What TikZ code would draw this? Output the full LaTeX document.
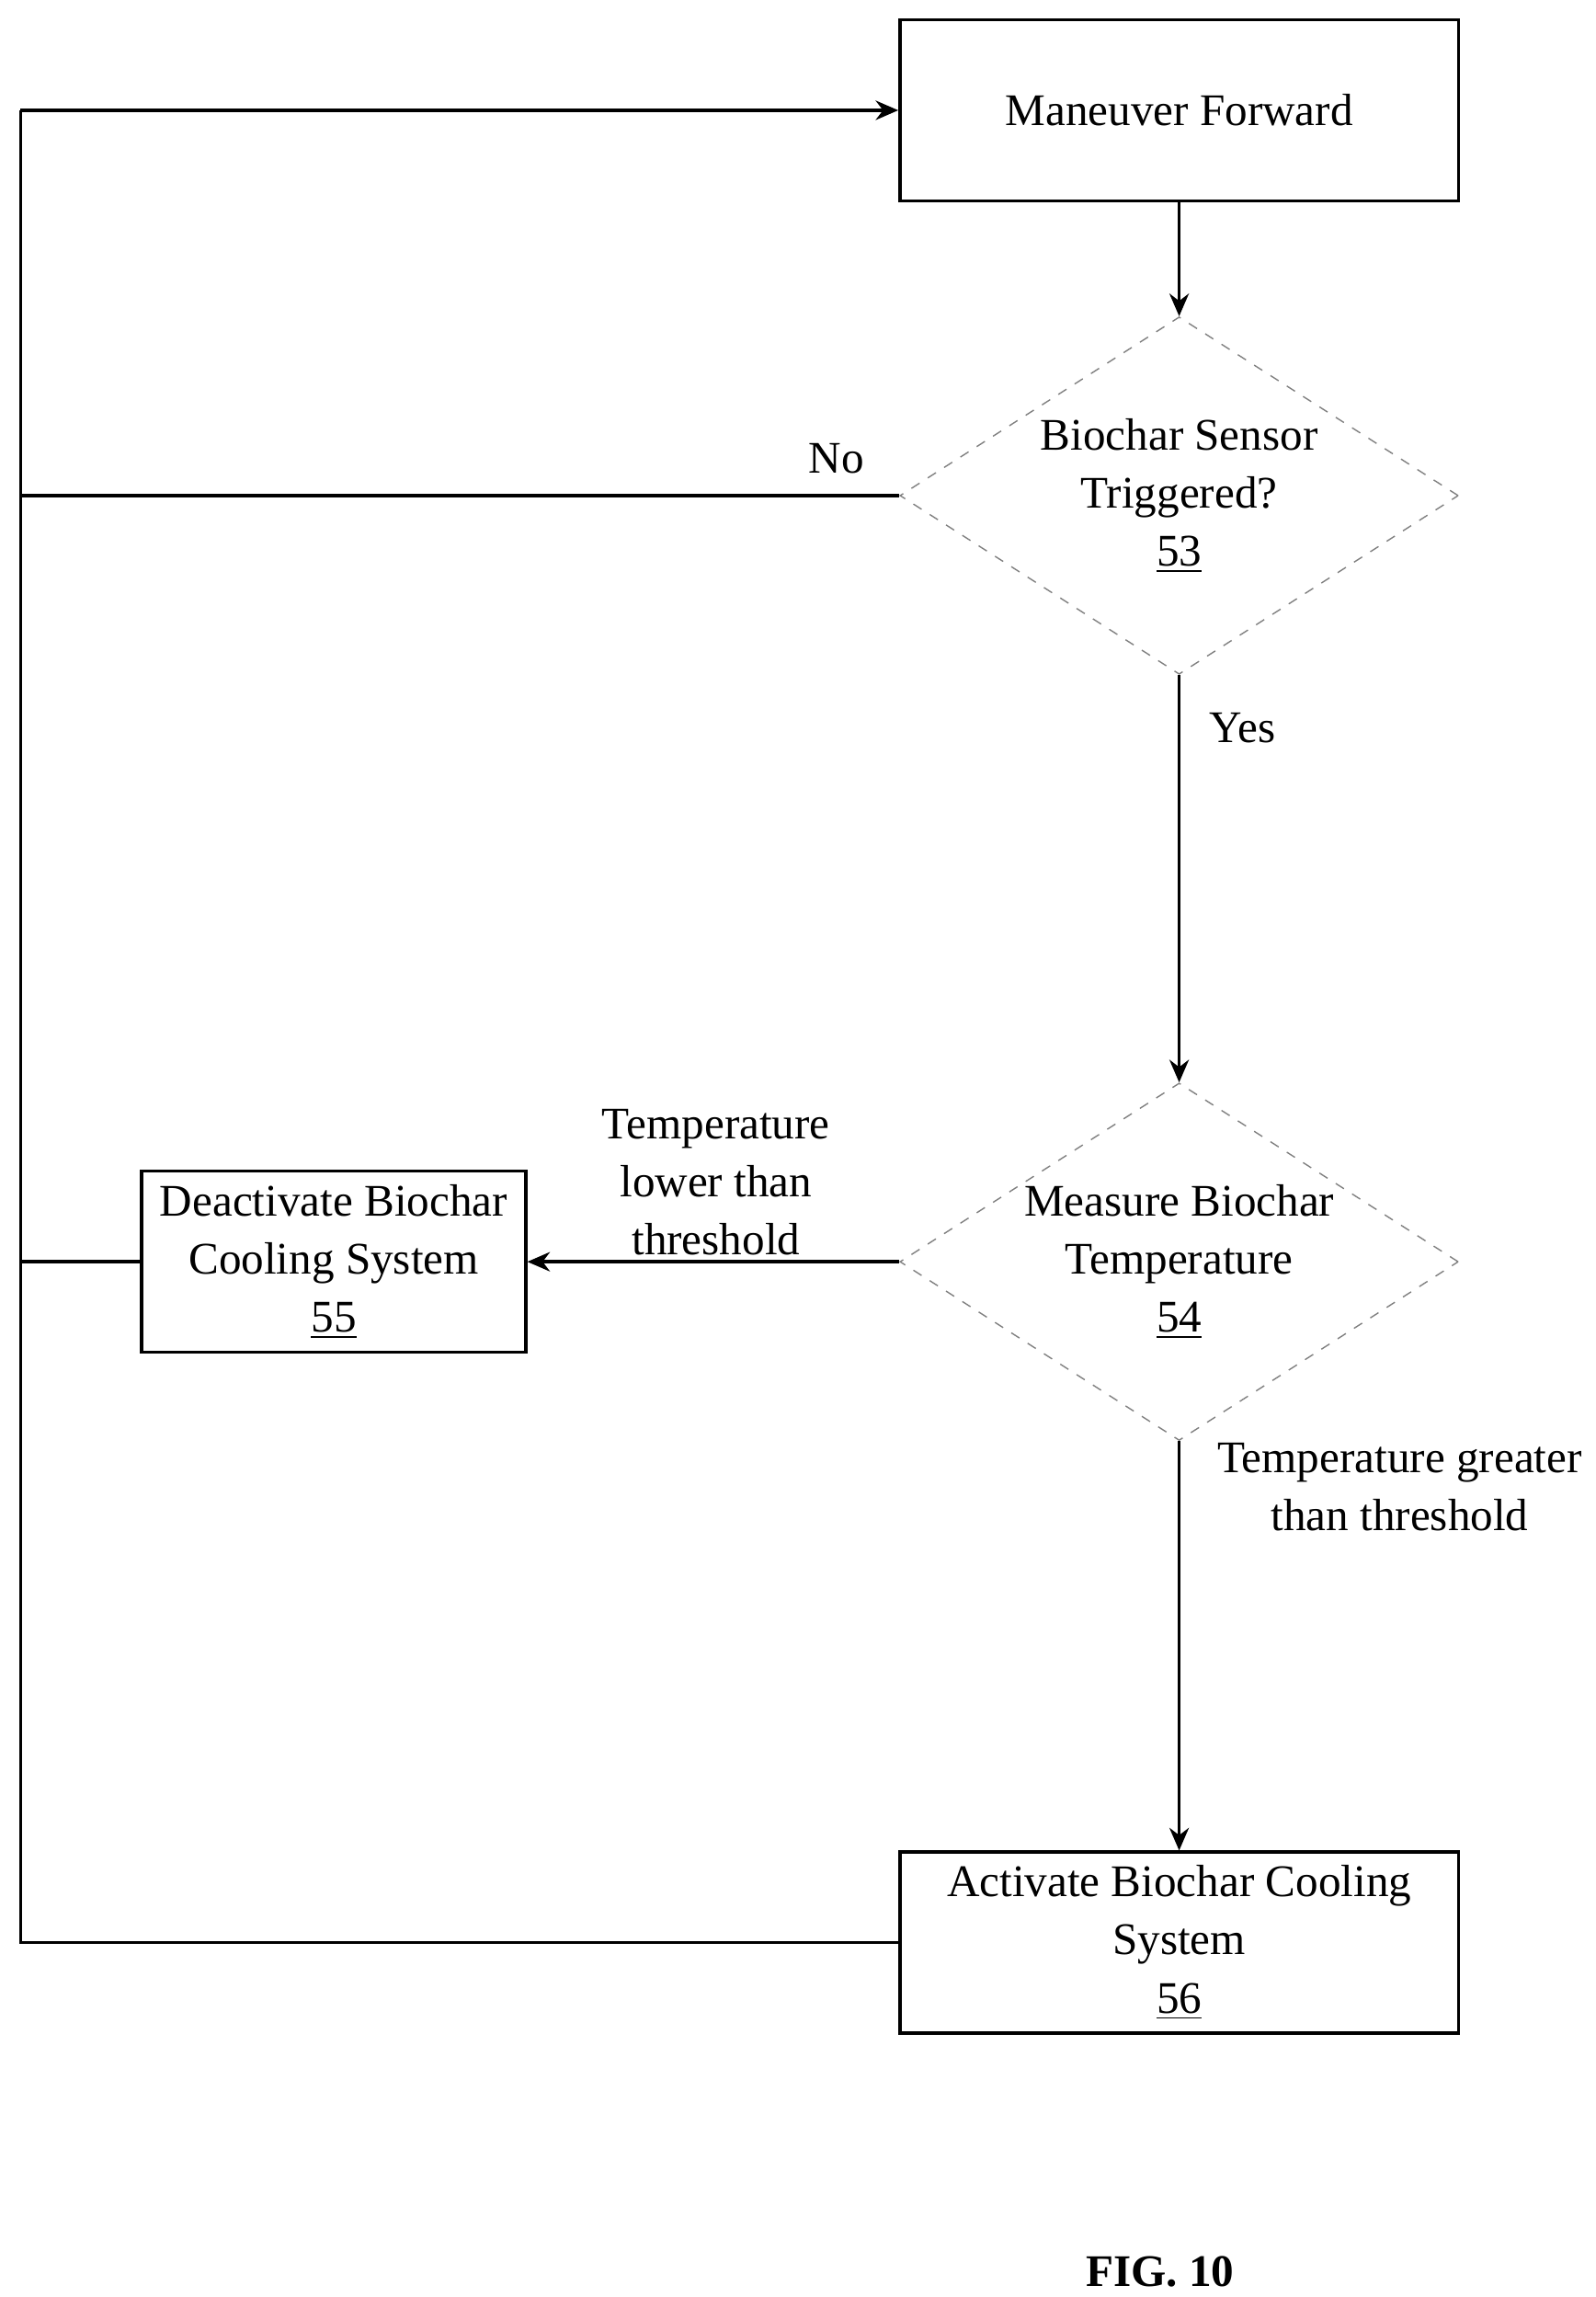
\documentclass[tikz,border=0pt]{standalone}
\usepackage{fontspec}
\setmainfont{Liberation Serif}
\usetikzlibrary{shapes.geometric,arrows.meta}
\begin{document}
\begin{tikzpicture}[
        x=0.016cm, y=-0.016cm,
        font=\fontsize{14}{18}\selectfont,
        >={Stealth[length=7pt,width=6pt]},
        thick
        ]
        % styles for the flow chart
        \tikzset{
          actionbox/.style={draw, line width=1pt, align=center, minimum width=6.08cm, minimum height=1.97cm},
          smallbox/.style={draw, line width=1pt, align=center, minimum width=4.18cm, minimum height=1.97cm},
          checkbox/.style={draw=gray, thin, dashed, diamond, aspect=1.56, inner sep=0pt, align=center,
                        minimum width=6.08cm, minimum height=3.89cm},
          flow/.style={line width=1pt}
        }
        \useasboundingbox (0,0) rectangle (1085,1562);

        % 1. Boxes and decisions
        \node[actionbox] (fwd) at (802,75) {Maneuver Forward};
        \node[checkbox] (sensor) at (802,337) {Biochar Sensor\\Triggered?\\\underline{53}};
        \node[checkbox] (measure) at (802,858) {Measure Biochar\\Temperature\\\underline{54}};
        \node[smallbox] (deact) at (227,858) {Deactivate Biochar\\Cooling System\\\underline{55}};
        \node[actionbox] (act) at (802,1321) {Activate Biochar Cooling\\System\\\underline{56}};
        \coordinate (rail) at (14,75);

        % 2. Connectors
        \draw[flow, ->] (fwd) -- (sensor);
        \draw[flow, ->] (sensor) -- (measure);
        \draw[flow, ->] (measure) -- (deact);
        \draw[flow, ->] (measure) -- (act);
        \draw[flow] (act.west) -| (rail);
        \draw[flow] (sensor.west) -- (sensor.west -| rail);
        \draw[flow] (deact.west) -- (deact.west -| rail);
        \draw[flow, ->] (rail) -- (fwd.west);

        % 3. Labels
        \node at (569,312) {No};
        \node at (845,495) {Yes};
        \node[align=center] at (487,804) {Temperature\\lower than\\threshold};
        \node[align=center] at (952,1011) {Temperature greater\\than threshold};
        \node[font=\fontsize{14}{18}\selectfont\bfseries] at (789,1545) {FIG. 10};
    \end{tikzpicture}
\end{document}
